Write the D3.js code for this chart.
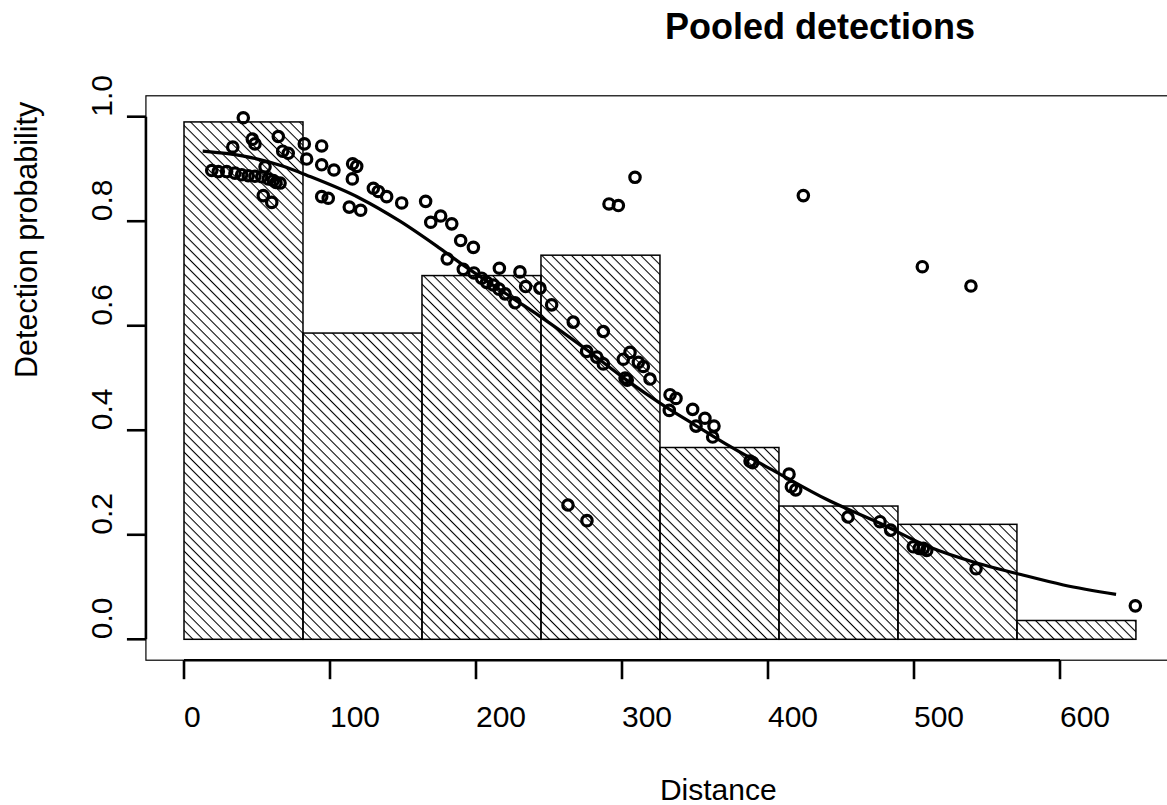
<!DOCTYPE html>
<html>
<head>
<meta charset="utf-8">
<script src="https://cdn.jsdelivr.net/npm/d3@7"></script>
<style>
  html, body { margin: 0; padding: 0; background: #fff; }
  svg { display: block; }
  text { font-family: "Liberation Sans", Arial, Helvetica, sans-serif; fill: #000; }
</style>
</head>
<body>
<svg id="chart" width="1167" height="805"></svg>
<script>
// ---- data ----
const binBreaks = [0, 81.5, 163, 244.5, 326, 407.5, 489, 570.5, 652];
const binHeights = [0.990, 0.586, 0.696, 0.735, 0.367, 0.255, 0.220, 0.036];

const pointDistance = [40.6,46.8,48.6,64.6,67.6,71.4,33.4,82.4,94.3,84.0,94.3,102.7,115.5,118.3,115.3,129.7,133.1,138.8,149.1,165.5,175.8,169.0,183.4,189.5,198.2,180.3,191.3,94.3,98.8,113.2,121.0,55.5,19.0,23.5,29.2,34.9,39.5,44.0,48.6,53.2,57.7,61.2,65.8,54.3,60.1,63.0,
  198.6,203.9,207.3,211.8,215.8,219.9,226.7,216.0,230.1,234.0,243.8,251.8,266.6,287.2,275.8,282.7,287.2,305.5,300.9,311.2,314.6,302.1,303.6,319.2,332.9,337.0,332.4,348.4,356.8,350.7,363.0,362.1,
  291.1,297.5,308.9,263.0,276.0,424.2,505.7,539.0,387.7,389.5,414.4,416.0,419.0,454.8,476.7,484.0,499.5,503.6,506.4,508.7,542.5,651.6];
const pointProb = [0.998,0.957,0.948,0.962,0.934,0.930,0.942,0.948,0.944,0.919,0.908,0.898,0.910,0.905,0.881,0.863,0.857,0.847,0.835,0.838,0.810,0.798,0.795,0.763,0.750,0.728,0.708,0.847,0.844,0.827,0.821,0.904,0.897,0.895,0.895,0.892,0.889,0.887,0.886,0.885,0.881,0.878,0.873,0.849,0.836,0.874,
  0.701,0.691,0.683,0.678,0.670,0.661,0.644,0.710,0.703,0.675,0.672,0.640,0.607,0.589,0.551,0.540,0.527,0.549,0.536,0.530,0.522,0.500,0.496,0.498,0.468,0.461,0.438,0.440,0.423,0.408,0.408,0.387,
  0.833,0.830,0.884,0.257,0.227,0.849,0.713,0.676,0.341,0.338,0.316,0.292,0.286,0.234,0.225,0.209,0.177,0.174,0.174,0.170,0.135,0.064];

const curveDistance = [12.8,40,68,84,120.5,147.9,175.3,191.3,225.5,243.8,275.8,303.2,326,350,374,407,440,476.7,511,542.9,570.3,602.3,638.4];
const curveProb =     [0.934,0.925,0.905,0.888,0.844,0.800,0.748,0.716,0.652,0.618,0.554,0.496,0.452,0.410,0.369,0.318,0.268,0.222,0.176,0.146,0.126,0.104,0.086];

const xTicks = [0, 100, 200, 300, 400, 500, 600];
const yTicks = [0, 0.2, 0.4, 0.6, 0.8, 1.0];
const yTickLabels = ["0.0", "0.2", "0.4", "0.6", "0.8", "1.0"];
const titleText = "Pooled detections";
const xTitle = "Distance";
const yTitle = "Detection probability";

// ---- scales ----
const x = d3.scaleLinear().domain([0, 600]).range([184, 1060]);
const y = d3.scaleLinear().domain([0, 1]).range([639.3, 116.7]);
const xMax = binBreaks[binBreaks.length - 1];
const xPad = 0.04 * xMax;

const svg = d3.select("#chart");

// hatch pattern
const defs = svg.append("defs");
const pat = defs.append("pattern")
  .attr("id", "hatch")
  .attr("patternUnits", "userSpaceOnUse")
  .attr("width", 20).attr("height", 7.0)
  .attr("patternTransform", "rotate(45)");
pat.append("line").attr("x1", 0).attr("x2", 20).attr("y1", 0.5).attr("y2", 0.5)
  .attr("stroke", "#000").attr("stroke-width", 1.1);

// plot box
svg.append("rect")
  .attr("x", x(-xPad)).attr("y", y(1.04))
  .attr("width", x(xMax + xPad) - x(-xPad))
  .attr("height", y(-0.04) - y(1.04))
  .attr("fill", "none").attr("stroke", "#000").attr("stroke-width", 1.2);

// bars
const bins = binHeights.map((h, i) => ({x0: binBreaks[i], x1: binBreaks[i + 1], h}));
svg.append("g").selectAll("rect.bar").data(bins).enter().append("rect")
  .attr("class", "bar")
  .attr("x", d => x(d.x0)).attr("y", d => y(d.h))
  .attr("width", d => x(d.x1) - x(d.x0))
  .attr("height", d => y(0) - y(d.h))
  .attr("fill", "url(#hatch)")
  .attr("stroke", "#000").attr("stroke-width", 1.5);

// curve
const line = d3.line().x((d, i) => x(curveDistance[i])).y((d, i) => y(curveProb[i])).curve(d3.curveMonotoneX);
svg.append("path").datum(curveDistance)
  .attr("d", line)
  .attr("fill", "none").attr("stroke", "#000").attr("stroke-width", 3.2);

// points
svg.append("g").selectAll("circle").data(pointDistance).enter().append("circle")
  .attr("cx", d => x(d)).attr("cy", (d, i) => y(pointProb[i]))
  .attr("r", 5.2)
  .attr("fill", "none").attr("stroke", "#000").attr("stroke-width", 3.2);

// x axis
const axY = y(-0.04);
const xAxisG = svg.append("g");
xAxisG.append("line")
  .attr("x1", x(xTicks[0])).attr("x2", x(xTicks[xTicks.length - 1]))
  .attr("y1", axY).attr("y2", axY)
  .attr("stroke", "#000").attr("stroke-width", 2.6);
xAxisG.selectAll("line.tick").data(xTicks).enter().append("line")
  .attr("class", "tick")
  .attr("x1", d => x(d)).attr("x2", d => x(d))
  .attr("y1", axY).attr("y2", axY + 19)
  .attr("stroke", "#000").attr("stroke-width", 2.6);
xAxisG.selectAll("text").data(xTicks).enter().append("text")
  .attr("x", d => x(d)).attr("y", 727)
  .attr("font-size", 30)
  .attr("text-anchor", "start")
  .text(d => d);

// y axis
const yAxisG = svg.append("g");
const axX = x(-xPad);
yAxisG.append("line")
  .attr("x1", axX).attr("x2", axX)
  .attr("y1", y(0)).attr("y2", y(1))
  .attr("stroke", "#000").attr("stroke-width", 2.6);
yAxisG.selectAll("line.tick").data(yTicks).enter().append("line")
  .attr("class", "tick")
  .attr("x1", axX - 19).attr("x2", axX)
  .attr("y1", d => y(d)).attr("y2", d => y(d))
  .attr("stroke", "#000").attr("stroke-width", 2.6);
yAxisG.selectAll("text").data(yTicks).enter().append("text")
  .attr("transform", d => `translate(112,${y(d)}) rotate(-90)`)
  .attr("font-size", 30)
  .attr("text-anchor", "start")
  .text((d, i) => yTickLabels[i]);

// titles
const midX = (x(-xPad) + x(xMax + xPad)) / 2;
const midY = (y(1.04) + y(-0.04)) / 2;
svg.append("text")
  .attr("x", midX + 5).attr("y", 39)
  .attr("font-size", 36).attr("font-weight", "bold")
  .attr("text-anchor", "start")
  .text(titleText);
svg.append("text")
  .attr("x", midX).attr("y", 800)
  .attr("font-size", 30)
  .attr("text-anchor", "start")
  .text(xTitle);
svg.append("text")
  .attr("transform", `translate(37,${midY}) rotate(-90)`)
  .attr("font-size", 30.5)
  .attr("text-anchor", "start")
  .text(yTitle);
</script>
</body>
</html>
